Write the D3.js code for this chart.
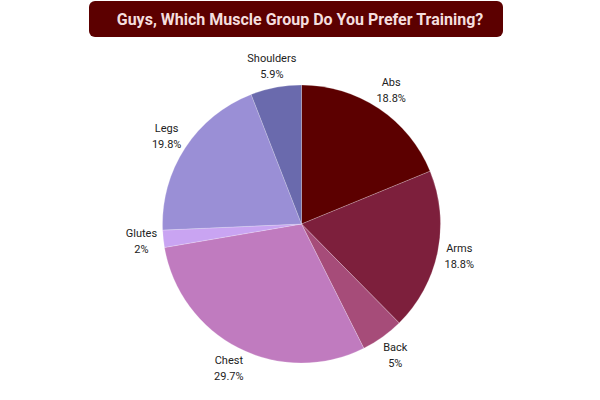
<!DOCTYPE html>
<html>
<head>
<meta charset="utf-8">
<script src="https://cdn.jsdelivr.net/npm/d3@7"></script>
<style>
  body { margin: 0; background: #fff; }
  text { font-family: Roboto, "Noto Sans", sans-serif; }
</style>
</head>
<body>
<div id="chart-area"></div>
<script>
// Data
const groups = ["Abs", "Arms", "Back", "Chest", "Glutes", "Legs", "Shoulders"];
const shares = [18.8, 18.8, 5, 29.7, 2, 19.8, 5.9];
const sliceColors = ["#5c0000", "#7d1f3c", "#a64c79", "#c07bbf", "#c9a4f2", "#9a8fd6", "#6a6aad"];
const titleText = "Guys, Which Muscle Group Do You Prefer Training?";

const width = 600, height = 400;
const center = { x: 301.5, y: 224 };
const radius = 139;
const labelRadius = 161;

const svg = d3.select("#chart-area")
  .append("svg")
    .attr("width", width)
    .attr("height", height);

// Title banner
svg.append("rect")
  .attr("x", 89)
  .attr("y", 1)
  .attr("width", 414)
  .attr("height", 36)
  .attr("rx", 6)
  .attr("fill", "#5c0000");

svg.append("text")
  .attr("x", 300)
  .attr("y", 24.5)
  .attr("text-anchor", "middle")
  .attr("font-size", "16px")
  .attr("font-weight", "bold")
  .attr("fill", "#f4dede")
  .text(titleText);

// Pie
const data = groups.map((g, i) => ({ group: g, value: shares[i], color: sliceColors[i] }));

const pie = d3.pie()
  .sort(null)
  .value(d => d.value);

const arc = d3.arc()
  .innerRadius(0)
  .outerRadius(radius);

const arcs = pie(data);

const chart = svg.append("g")
  .attr("transform", `translate(${center.x}, ${center.y})`);

chart.selectAll("path")
  .data(arcs)
  .enter()
  .append("path")
    .attr("d", arc)
    .attr("fill", d => d.data.color)
    .attr("stroke", "rgba(255,255,255,0.35)")
    .attr("stroke-width", 0.6);

// Labels
const labels = chart.selectAll("g.label")
  .data(arcs)
  .enter()
  .append("g")
    .attr("class", "label")
    .attr("transform", d => {
      const a = (d.startAngle + d.endAngle) / 2;
      return `translate(${labelRadius * Math.sin(a)}, ${-labelRadius * Math.cos(a)})`;
    });

labels.append("text")
  .attr("y", -4)
  .attr("text-anchor", "middle")
  .attr("font-size", "11px")
  .attr("fill", "#222")
  .text(d => d.data.group);

labels.append("text")
  .attr("y", 12)
  .attr("text-anchor", "middle")
  .attr("font-size", "11px")
  .attr("fill", "#222")
  .text(d => d.data.value + "%");
</script>
</body>
</html>
